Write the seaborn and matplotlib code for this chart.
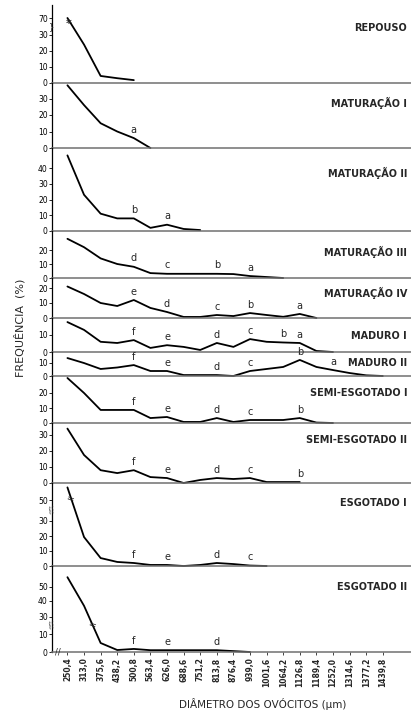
import numpy as np
import pandas as pd
import matplotlib
matplotlib.use("Agg")
import matplotlib.pyplot as plt
import seaborn as sns

# ---------------- data ----------------
diametros = ["250,4", "313,0", "375,6", "438,2", "500,8", "563,4", "626,0",
             "688,6", "751,2", "813,8", "876,4", "939,0", "1001,6", "1064,2",
             "1126,8", "1189,4", "1252,0", "1314,6", "1377,2", "1439,8"]

repouso = [70, 24, 4.4, 3, 1.8]
maturacao_1 = [38, 26, 15, 10, 6, 0]
maturacao_2 = [48, 23, 11, 8, 8, 2, 4, 1.3, 0.6]
maturacao_3 = [28, 22, 14, 10, 8, 3.5, 3, 3, 3, 3, 2.8, 1.4, 0.7, 0]
maturacao_4 = [21, 16, 10, 8, 12, 6.7, 4, 0.7, 0.7, 2, 1.3, 3.3, 2, 0.8, 2.7, 0]
maduro_1 = [17.6, 13, 6, 5.3, 7, 2.4, 4, 3, 1.2, 5.3, 3, 7.6, 6, 5.6, 5.3, 0.6, 0]
maduro_2 = [13.3, 9.6, 5.2, 6.3, 8.1, 3.7, 3.7, 0.7, 0.7, 0.7, 0, 3.7, 5.2, 6.7,
            11.9, 6.7, 4.4, 2.2, 0.5, 0]
semi_esgotado_1 = [30, 20, 8.7, 8.7, 8.7, 3.3, 4, 0.7, 0.7, 3.3, 0.7, 2, 2, 2, 3.3, 0.3, 0]
semi_esgotado_2 = [34, 17.5, 8, 6.2, 8, 3.7, 3.1, 0, 1.9, 3.1, 2.5, 3.1, 0.6, 0.6, 0.6]
esgotado_1 = [62, 19.3, 5.3, 2.7, 2, 0.7, 0.7, 0, 0.7, 2, 1.3, 0.3, 0]
esgotado_2 = [57, 37, 5, 1.1, 1.7, 1, 1, 1, 1, 1, 0.5, 0]

letras_repouso = {}
letras_mat1 = {"500,8": "a"}
letras_mat2 = {"500,8": "b", "626,0": "a"}
letras_mat3 = {"500,8": "d", "626,0": "c", "813,8": "b", "939,0": "a"}
letras_mat4 = {"500,8": "e", "626,0": "d", "813,8": "c", "939,0": "b", "1126,8": "a"}
letras_mad1 = {"500,8": "f", "626,0": "e", "813,8": "d", "939,0": "c", "1064,2": "b", "1126,8": "a"}
letras_mad2 = {"500,8": "f", "626,0": "e", "813,8": "d", "939,0": "c", "1126,8": "b", "1252,0": "a"}
letras_semi1 = {"500,8": "f", "626,0": "e", "813,8": "d", "939,0": "c", "1126,8": "b"}
letras_semi2 = {"500,8": "f", "626,0": "e", "813,8": "d", "939,0": "c", "1126,8": "b"}
letras_esg1 = {"500,8": "f", "626,0": "e", "813,8": "d", "939,0": "c"}
letras_esg2 = {"500,8": "f", "626,0": "e", "813,8": "d"}

titulos = ["REPOUSO", "MATURAÇÃO I", "MATURAÇÃO II", "MATURAÇÃO III", "MATURAÇÃO IV",
           "MADURO I", "MADURO II", "SEMI-ESGOTADO I", "SEMI-ESGOTADO II",
           "ESGOTADO I", "ESGOTADO II"]

# ---------------- layout (pixels) ----------------
W, H = 411, 715
AX_L, AX_R = 52, 411
panels = [
    # data, letters, top, bottom, (scale values, scale px), yticks, title y
    (repouso, letras_repouso, 5, 83, ([0, 30, 70], [0, 48, 65]), [0, 10, 20, 30, 70], 28),
    (maturacao_1, letras_mat1, 83, 148, ([0, 10], [0, 16.5]), [0, 10, 20, 30], 103),
    (maturacao_2, letras_mat2, 148, 231, ([0, 10], [0, 15.75]), [0, 10, 20, 30, 40], 173),
    (maturacao_3, letras_mat3, 231, 278, ([0, 10], [0, 14]), [0, 10, 20], 252),
    (maturacao_4, letras_mat4, 278, 318, ([0, 10], [0, 15]), [0, 10, 20], 293),
    (maduro_1, letras_mad1, 318, 352, ([0, 10], [0, 17]), [0, 10], 336),
    (maduro_2, letras_mad2, 352, 376, ([0, 10], [0, 13.5]), [0, 10], 363),
    (semi_esgotado_1, letras_semi1, 376, 423, ([0, 10], [0, 15]), [0, 10, 20], 393),
    (semi_esgotado_2, letras_semi2, 423, 483, ([0, 10], [0, 16]), [0, 10, 20, 30], 440),
    (esgotado_1, letras_esg1, 483, 566, ([0, 30, 50], [0, 45, 66]), [0, 10, 20, 30, 50], 503),
    (esgotado_2, letras_esg2, 566, 652, ([0, 10, 30, 40, 50], [0, 18, 35, 51, 65]), [0, 10, 30, 40, 50], 587),
]


def make_scale(vals, pxs):
    vals = np.asarray(vals, float)
    pxs = np.asarray(pxs, float)
    s_lo = (pxs[1] - pxs[0]) / (vals[1] - vals[0])
    s_hi = (pxs[-1] - pxs[-2]) / (vals[-1] - vals[-2])

    def fwd(y):
        y = np.asarray(y, float)
        out = np.interp(y, vals, pxs)
        out = np.where(y < vals[0], pxs[0] + (y - vals[0]) * s_lo, out)
        out = np.where(y > vals[-1], pxs[-1] + (y - vals[-1]) * s_hi, out)
        return out

    def inv(t):
        t = np.asarray(t, float)
        out = np.interp(t, pxs, vals)
        out = np.where(t < pxs[0], vals[0] + (t - pxs[0]) / s_lo, out)
        out = np.where(t > pxs[-1], vals[-1] + (t - pxs[-1]) / s_hi, out)
        return out

    return fwd, inv


sns.set_style("white")
plt.rcParams["font.family"] = ["DejaVu Sans"]

fig = plt.figure(figsize=(W / 100, H / 100), dpi=100)
x_min, x_max = -0.93, 20.7

axes = []
for k, (vals, letras, top, bot, (sv, sp), yt, ty) in enumerate(panels):
    ax = fig.add_axes([AX_L / W, 1 - bot / H, (AX_R - AX_L) / W, (bot - top) / H])
    ax.set_facecolor("none")
    fwd, inv = make_scale(sv, sp)
    ax.set_yscale("function", functions=(fwd, inv))
    df = pd.DataFrame({"pos": np.arange(len(vals)), "freq": vals})
    sns.lineplot(data=df, x="pos", y="freq", ax=ax, color="black", lw=1.3,
                 clip_on=False)
    ax.set_xlim(x_min, x_max)
    ax.set_ylim(0, float(inv(bot - top)))
    ax.set_yticks(yt)
    ax.set_yticklabels([str(t) for t in yt])
    ax.tick_params(axis="y", labelsize=5.5, length=2, width=0.6, pad=1,
                   left=True, colors="black")
    ax.set_xlabel("")
    ax.set_ylabel("")
    for s in ["top", "right"]:
        ax.spines[s].set_visible(False)
    ax.spines["left"].set_color("black")
    ax.spines["left"].set_linewidth(0.9)
    ax.spines["bottom"].set_color("#707070")
    ax.spines["bottom"].set_linewidth(1.1)
    if k < len(panels) - 1:
        ax.set_xticks([])
    else:
        ax.set_xticks(np.arange(len(diametros)))
        ax.set_xticklabels(diametros, rotation=90, fontsize=5.5, fontweight="bold")
        ax.tick_params(axis="x", length=2, width=0.6, pad=2, bottom=True)
    # letters
    for cat, let in letras.items():
        i = diametros.index(cat)
        ax.annotate(let, (i, vals[i]), xytext=(0, 6), textcoords="offset points",
                    ha="center", va="center", fontsize=7)
    fig.text(407 / W, 1 - ty / H, titulos[k], ha="right", va="center",
             fontsize=7, fontweight="bold")
    axes.append(ax)

# break marks
axes[0].annotate("*", (0, repouso[0]), xytext=(1, -4), textcoords="offset points",
                 ha="center", va="center", fontsize=8, fontweight="bold")
axes[0].text(x_min, 50, "}", ha="center", va="center", fontsize=6)
axes[9].text(x_min, 40, "//", ha="center", va="center", fontsize=6, rotation=20)
axes[9].annotate("=", (0, esgotado_1[0]), xytext=(2, -9), textcoords="offset points",
                 ha="center", va="center", fontsize=7, rotation=-20)
axes[10].text(x_min, 20, "//", ha="center", va="center", fontsize=6, rotation=20)
axes[10].annotate("=", (1, esgotado_2[1]), xytext=(6, -14), textcoords="offset points",
                  ha="center", va="center", fontsize=7, rotation=-20)
axes[10].text(-0.55, 0, "//", ha="center", va="center", fontsize=6)

fig.text(20 / W, 1 - 328 / H, "FREQUÊNCIA  (%)", rotation=90, ha="center",
         va="center", fontsize=8)
fig.text(263 / W, 1 - 704 / H, "DIÂMETRO DOS OVÓCITOS (μm)", ha="center",
         va="center", fontsize=7.5)

fig.savefig("out.png", dpi=100)
